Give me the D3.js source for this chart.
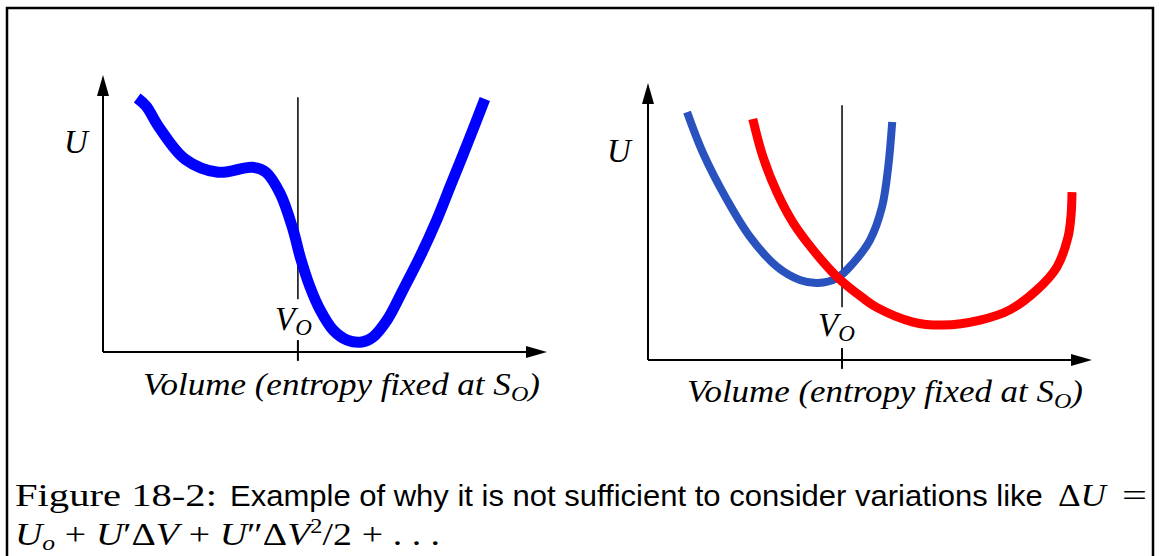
<!DOCTYPE html>
<html>
<head>
<meta charset="utf-8">
<script src="https://cdn.jsdelivr.net/npm/d3@7"></script>
<style>
  body { margin: 0; background: #fff; }
  svg { display: block; }
</style>
</head>
<body>
<div id="chart"></div>
<script>
// curve data, in axis units (0..100 along each axis)
var leftVol = [7.7, 9.7, 12.6, 18.5, 25.9, 33.6, 36.7, 39.9, 42.8, 44.4, 46.6, 48.9, 51.8, 55.0, 58.3, 60.8, 64.0, 67.6, 71.4, 75.2, 78.2, 82.2, 86.0];
var leftU   = [91.7, 88.8, 81.2, 69.6, 64.9, 66.7, 64.9, 57.2, 44.2, 34.4, 23.6, 15.2, 8.0, 4.3, 3.6, 5.4, 11.6, 22.5, 34.4, 47.8, 59.8, 75.7, 91.3];

var rightVolBlue = [8.8, 12.4, 17.8, 23.0, 29.1, 34.2, 38.3, 42.6, 46.2, 50.0, 52.7, 54.1, 55.0];
var rightUBlue   = [89.5, 74.7, 57.8, 44.4, 33.6, 28.9, 27.8, 29.6, 35.0, 43.3, 55.2, 69.7, 85.9];

var rightVolRed = [23.6, 25.9, 29.1, 32.7, 37.2, 42.6, 48.4, 51.4, 59.7, 66.4, 74.8, 81.5, 87.6, 92.1, 94.6, 95.3, 95.5];
var rightURed   = [87.0, 73.3, 60.3, 49.5, 39.7, 30.0, 22.4, 19.1, 13.7, 12.6, 14.4, 18.1, 25.3, 33.6, 44.4, 52.7, 60.6];

var v0 = [43.9, 43.7];          // marked volume V_O, left and right panel
var v0Line = [92, 19];          // extent of the V_O marker line
var v0Tick = [4.3, -3.2];       // small tick through the axis

var yLabel = "U";
var xLabel = "Volume (entropy fixed at S";
var xLabelSub = "O";

var width = 1159, height = 556;

var svg = d3.select("#chart").append("svg")
    .attr("width", width)
    .attr("height", height);

// frame
svg.append("rect")
    .attr("x", 7).attr("y", 8)
    .attr("width", 1146).attr("height", 620)
    .attr("fill", "none")
    .attr("stroke", "#000")
    .attr("stroke-width", 2.5);

var serif = "'Liberation Serif', 'Times New Roman', Tinos, 'Nimbus Roman', Times, serif";
var sans = "'Liberation Sans', Arial, sans-serif";

// lays out text pieces one after another, optionally squeezed to a width
function rich(parent, x, y, parts, fitWidth) {
    var g = parent.append("g").attr("transform", "translate(" + x + "," + y + ")");
    var inner = g.append("g");
    var cx = 0;
    parts.forEach(function(p){
        var t = inner.append("text")
            .attr("x", cx)
            .attr("y", p.dy || 0)
            .attr("font-family", p.f || serif)
            .attr("font-size", (p.s || 30) + "px")
            .attr("font-style", p.i ? "italic" : "normal")
            .attr("fill", "#000")
            .text(p.t);
        cx += t.node().getComputedTextLength() + (p.gap || 0);
    });
    if(fitWidth){
        inner.attr("transform", "scale(" + (fitWidth / cx) + ",1)");
    }
    return g;
}

function arrow(g, tip, dir){
    var p;
    if(dir == "up"){
        p = [[tip[0], tip[1]], [tip[0] - 6, tip[1] + 21], [tip[0] + 6, tip[1] + 21]];
    } else {
        p = [[tip[0], tip[1]], [tip[0] - 21, tip[1] - 6], [tip[0] - 21, tip[1] + 6]];
    }
    g.append("path")
        .attr("d", "M" + p.join("L") + "Z")
        .attr("fill", "#000");
}

var panels = [
    {
        x0: 103, x1: 547, y0: 352, y1: 75,
        curves: [{vol: leftVol, u: leftU, color: "#0000ff", w: 11}],
        v0: v0[0],
        uLab: [64, 153],
        v0Lab: [275, 330],
        xLab: [143, 395, 397]
    },
    {
        x0: 648, x1: 1092, y0: 360, y1: 83,
        curves: [
            {vol: rightVolBlue, u: rightUBlue, color: "#2a52be", w: 8},
            {vol: rightVolRed, u: rightURed, color: "#ff0000", w: 9}
        ],
        v0: v0[1],
        uLab: [607, 162],
        v0Lab: [818, 336],
        xLab: [687, 402, 396]
    }
];

panels.forEach(function(pn){
    var x = d3.scaleLinear().domain([0, 100]).range([pn.x0, pn.x1]);
    var y = d3.scaleLinear().domain([0, 100]).range([pn.y0, pn.y1]);
    var g = svg.append("g");

    // axes
    g.append("line")
        .attr("x1", x(0)).attr("x2", x(100) - 10)
        .attr("y1", y(0)).attr("y2", y(0))
        .attr("stroke", "#000").attr("stroke-width", 2);
    g.append("line")
        .attr("x1", x(0)).attr("x2", x(0))
        .attr("y1", y(0)).attr("y2", y(100) + 10)
        .attr("stroke", "#000").attr("stroke-width", 2);
    arrow(g, [x(100), y(0)], "right");
    arrow(g, [x(0), y(100)], "up");

    // V_O marker
    g.append("line")
        .attr("x1", x(pn.v0)).attr("x2", x(pn.v0))
        .attr("y1", y(v0Line[0])).attr("y2", y(v0Line[1]))
        .attr("stroke", "#000").attr("stroke-width", 1.5);
    g.append("line")
        .attr("x1", x(pn.v0)).attr("x2", x(pn.v0))
        .attr("y1", y(v0Tick[0])).attr("y2", y(v0Tick[1]))
        .attr("stroke", "#000").attr("stroke-width", 2);

    // curves
    var line = d3.line()
        .x(function(d){ return x(d[0]); })
        .y(function(d){ return y(d[1]); })
        .curve(d3.curveCatmullRom.alpha(0.5));

    pn.curves.forEach(function(c){
        var pts = c.vol.map(function(v, i){ return [v, c.u[i]]; });
        g.append("path")
            .datum(pts)
            .attr("d", line)
            .attr("fill", "none")
            .attr("stroke", c.color)
            .attr("stroke-width", c.w)
            .attr("stroke-linejoin", "round");
    });

    // labels
    rich(g, pn.uLab[0], pn.uLab[1], [{t: yLabel, i: true, s: 33}]);
    rich(g, pn.v0Lab[0], pn.v0Lab[1], [
        {t: "V", i: true, s: 33},
        {t: "O", i: true, s: 23, dy: 5}
    ]);
    rich(g, pn.xLab[0], pn.xLab[1], [
        {t: xLabel, i: true, s: 32},
        {t: xLabelSub, i: true, s: 22, dy: 6},
        {t: ")", i: true, s: 32}
    ], pn.xLab[2]);
});

// caption
var cap = svg.append("g");
rich(cap, 15, 506, [{t: "Figure 18-2:", f: serif, s: 31}], 202);
rich(cap, 230, 506, [{t: "Example of why it is not sufficient to consider variations like", f: sans, s: 29}], 813);
rich(cap, 1058, 506, [{t: "\u0394", s: 31}, {t: "U", i: true, s: 31}], 48);
rich(cap, 1122, 506, [{t: "=", s: 31}], 25);
rich(cap, 15, 545, [
    {t: "U", i: true, s: 31},
    {t: "o", i: true, s: 21, dy: 5, gap: 8},
    {t: "+", s: 31, gap: 8},
    {t: "U", i: true, s: 31},
    {t: "\u2032", s: 31},
    {t: "\u0394", s: 31},
    {t: "V", i: true, s: 31, gap: 8},
    {t: "+", s: 31, gap: 8},
    {t: "U", i: true, s: 31},
    {t: "\u2033", s: 31},
    {t: "\u0394", s: 31},
    {t: "V", i: true, s: 31},
    {t: "2", s: 20, dy: -12},
    {t: "/2", s: 31, gap: 8},
    {t: "+", s: 31, gap: 8},
    {t: ". . .", s: 31}
], 425);
</script>
</body>
</html>
